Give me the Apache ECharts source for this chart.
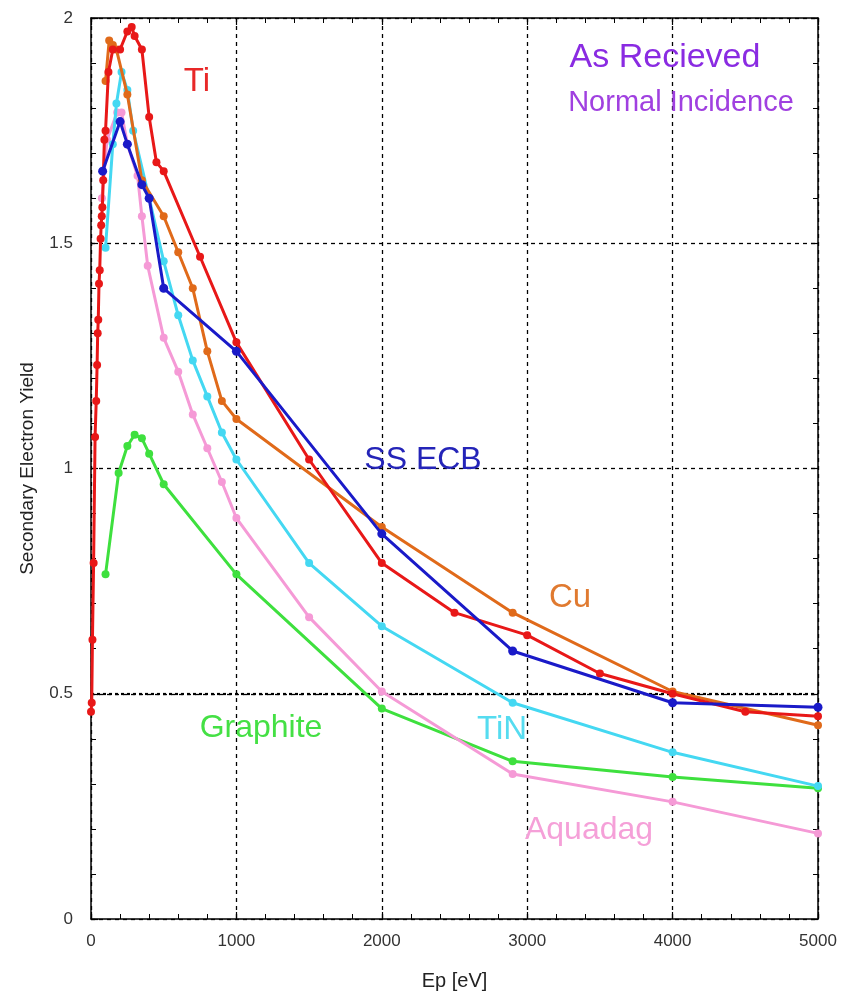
<!DOCTYPE html>
<html>
<head>
<meta charset="utf-8">
<script src="https://cdn.jsdelivr.net/npm/echarts@6/dist/echarts.min.js"></script>
<style>
  html, body { margin: 0; padding: 0; background: #fff; }
  #chart { width: 843px; height: 996px; }
</style>
</head>
<body>
<div id="chart"></div>
<script>
// values, [Ep (eV), yield]
const tiData = [[0,0.46],[5,0.48],[10,0.62],[18,0.79],[28,1.07],[36,1.15],[42,1.23],[46,1.30],[50,1.33],[55,1.41],[60,1.44],[66,1.51],[70,1.54],[74,1.56],[78,1.58],[84,1.64],[92,1.73],[100,1.75],[120,1.88],[150,1.93],[200,1.93],[250,1.97],[280,1.98],[300,1.96],[350,1.93],[400,1.78],[450,1.68],[500,1.66],[750,1.47],[1000,1.28],[1500,1.02],[2000,0.79],[2500,0.68],[3000,0.63],[3500,0.545],[4000,0.50],[4500,0.46],[5000,0.45]]
const cuData = [[100,1.86],[125,1.95],[150,1.94],[175,1.93],[250,1.83],[350,1.64],[500,1.56],[600,1.48],[700,1.40],[800,1.26],[900,1.15],[1000,1.11],[2000,0.87],[2900,0.68],[4000,0.505],[5000,0.43]]
const ssData = [[80,1.66],[200,1.77],[250,1.72],[350,1.63],[400,1.60],[500,1.40],[1000,1.26],[2000,0.855],[2900,0.595],[4000,0.48],[5000,0.47]]
const tinData = [[100,1.49],[150,1.72],[175,1.81],[210,1.88],[250,1.84],[290,1.75],[400,1.60],[500,1.46],[600,1.34],[700,1.24],[800,1.16],[900,1.08],[1000,1.02],[1500,0.79],[2000,0.65],[2900,0.48],[4000,0.37],[5000,0.295]]
const aquaData = [[75,1.60],[110,1.73],[180,1.79],[210,1.79],[250,1.72],[320,1.65],[350,1.56],[390,1.45],[500,1.29],[600,1.215],[700,1.12],[800,1.045],[900,0.97],[1000,0.89],[1500,0.67],[2000,0.505],[2900,0.322],[4000,0.26],[5000,0.19]]
const graphiteData = [[100,0.765],[190,0.99],[250,1.05],[300,1.075],[350,1.067],[400,1.033],[500,0.965],[1000,0.765],[2000,0.467],[2900,0.35],[4000,0.315],[5000,0.29]]

const names = ['Graphite', 'Aquadag', 'TiN', 'Cu', 'Ti', 'SS ECB']
const colors = ['#3ee03e', '#f59ad6', '#44d8f2', '#e06a1a', '#e81818', '#1a1ac8']
const datasets = [graphiteData, aquaData, tinData, cuData, tiData, ssData]
const refYield = 0.5 // the heavier dotted line

const chart = echarts.init(document.getElementById('chart'))

const dashed = { show: true, lineStyle: { color: '#000', type: [4, 4], width: 1.3 } }
const tickIn = { show: true, inside: true, length: 7, lineStyle: { color: '#000', width: 1.2 } }
const minorIn = { show: true, splitNumber: 5, length: 5, lineStyle: { color: '#000', width: 1 } }
const lbl = { color: '#333', fontSize: 17, fontFamily: 'Liberation Sans' }
const boxLine = { show: true, onZero: false, lineStyle: { color: '#000', width: 1.5 } }

const series = names.map((n, i) => ({
  name: n,
  type: 'line',
  data: datasets[i],
  symbol: 'circle',
  symbolSize: i === 5 ? 9 : 8,
  itemStyle: { color: colors[i] },
  lineStyle: { color: colors[i], width: 3 },
  xAxisIndex: 0,
  yAxisIndex: 0,
  z: 3 + i
}))
series[0].markLine = {
  silent: true, symbol: 'none', label: { show: false }, z: 1,
  lineStyle: { color: '#000', type: [3, 3], width: 2.2 },
  data: [{ yAxis: refYield }]
}

// curve labels, centred on the given pixel
const label = (text, x, y, color, size) => ({
  type: 'text', x: x, y: y, z: 20,
  style: { text: text, fill: color, fontSize: size, fontFamily: 'Liberation Sans', align: 'center', verticalAlign: 'middle' }
})

chart.setOption({
  animation: false,
  backgroundColor: '#fff',
  grid: { left: 91, right: 25, top: 18, bottom: 76 },
  xAxis: [{
    type: 'value', min: 0, max: 5000, interval: 1000,
    axisLine: boxLine,
    axisTick: tickIn, minorTick: minorIn,
    axisLabel: { ...lbl, margin: 14, formatter: v => String(v) },
    splitLine: dashed,
    name: 'Ep [eV]', nameLocation: 'middle', nameGap: 52,
    nameTextStyle: { color: '#222', fontSize: 20, fontFamily: 'Liberation Sans' }
  }, {
    type: 'value', min: 0, max: 5000, interval: 1000, position: 'top',
    axisLine: boxLine,
    axisTick: tickIn, minorTick: minorIn,
    axisLabel: { show: false }, splitLine: { show: false }
  }],
  yAxis: [{
    type: 'value', min: 0, max: 2, interval: 0.5,
    axisLine: boxLine,
    axisTick: { show: false }, minorTick: { show: false },
    axisLabel: { ...lbl, margin: 18 },
    splitLine: dashed,
    name: 'Secondary Electron Yield', nameLocation: 'middle', nameGap: 54,
    nameTextStyle: { color: '#222', fontSize: 19, fontFamily: 'Liberation Sans' }
  }, {
    type: 'value', min: 0, max: 2, interval: 0.5, position: 'right',
    axisLine: boxLine,
    axisTick: tickIn, minorTick: minorIn,
    axisLabel: { show: false }, splitLine: { show: false }
  }, {
    // bare copy of the left axis, only for inward ticks
    type: 'value', min: 0, max: 2, interval: 0.5, position: 'left',
    axisLine: { show: false },
    axisTick: tickIn, minorTick: minorIn,
    axisLabel: { show: false }, splitLine: { show: false }
  }],
  series: series,
  graphic: [
    label('Ti', 197, 82, '#e82828', 33),
    label('As Recieved', 665, 58, '#8a2be2', 34),
    label('Normal Incidence', 681, 103, '#a040e0', 29),
    label('SS ECB', 423, 460, '#2424b8', 32),
    label('Cu', 570, 598, '#e07a30', 33),
    label('Graphite', 261, 728, '#44e044', 32),
    label('TiN', 502, 730, '#55dcf0', 33),
    label('Aquadag', 589, 830, '#f5a0d8', 32)
  ]
})
</script>
</body>
</html>
